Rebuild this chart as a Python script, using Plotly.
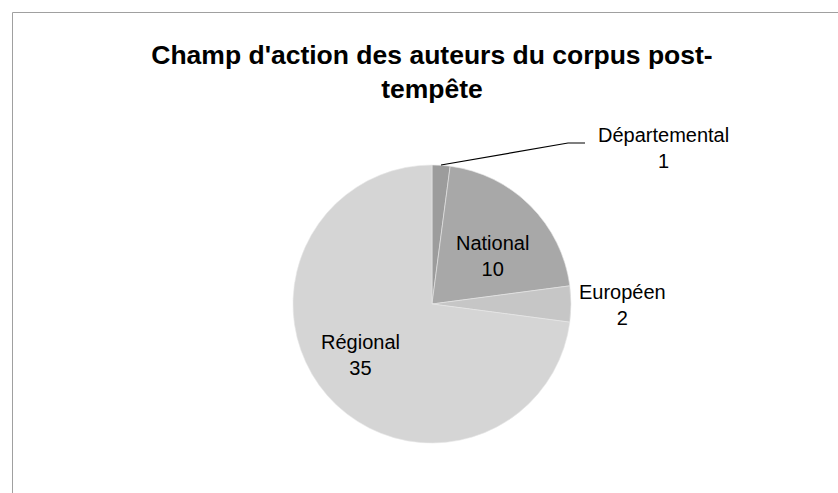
import plotly.graph_objects as go

# Data
categories = ["Départemental", "National", "Européen", "Régional"]
values = [1, 10, 2, 35]
colors = ["#9c9c9c", "#a8a8a8", "#c6c6c6", "#d5d5d5"]

title_text = "Champ d'action des auteurs du corpus post-<br>tempête"

W, H = 838, 493
FONT = "Liberation Sans, Arial, sans-serif"

def px(x):
    return x / W

def py(y):
    return 1 - y / H

cx, cy, r = 432, 304, 139

fig = go.Figure()
fig.add_trace(go.Pie(
    labels=categories,
    values=values,
    sort=False,
    direction="clockwise",
    rotation=0,
    textinfo="none",
    hoverinfo="label+value",
    marker=dict(colors=colors, line=dict(color="#e8e8e8", width=0.6)),
    domain=dict(x=[px(cx - r), px(cx + r)], y=[py(cy + r), py(cy - r)]),
    showlegend=False,
))

# label placements (layout positions, in pixels)
label_pos = {
    "Départemental": (663, 148),
    "National": (492, 256),
    "Européen": (622, 305),
    "Régional": (360, 355),
}

annotations = []
for cat, val in zip(categories, values):
    x, y = label_pos[cat]
    annotations.append(dict(
        text=f"{cat}<br>{val}",
        x=px(x), y=py(y), xref="paper", yref="paper",
        xanchor="center", yanchor="middle",
        showarrow=False,
        font=dict(family=FONT, size=20, color="#000000"),
    ))

shapes = [
    # chart frame
    dict(type="rect", xref="paper", yref="paper",
         x0=px(12.5), x1=px(W + 20), y0=py(H + 20), y1=py(12.5),
         line=dict(color="#a0a0a0", width=1), fillcolor="rgba(0,0,0,0)", layer="below"),
    # leader line for Départemental
    dict(type="path", xref="paper", yref="paper",
         path=f"M {px(441)},{py(165)} L {px(568)},{py(143)} L {px(585)},{py(143)}",
         line=dict(color="#000000", width=1.2)),
]

fig.update_layout(
    width=W, height=H, autosize=False,
    margin=dict(l=0, r=0, t=0, b=0),
    paper_bgcolor="#ffffff",
    plot_bgcolor="#ffffff",
    title=dict(
        text=title_text,
        x=px(432), xanchor="center",
        y=py(64), yanchor="middle",
        font=dict(family=FONT, size=26.5, color="#000000", weight="bold"),
    ),
    annotations=annotations,
    shapes=shapes,
)

fig.write_html(
    "out.html",
    config={"displayModeBar": False},
    post_script="document.body.style.margin='0';document.body.style.overflow='hidden';",
)
